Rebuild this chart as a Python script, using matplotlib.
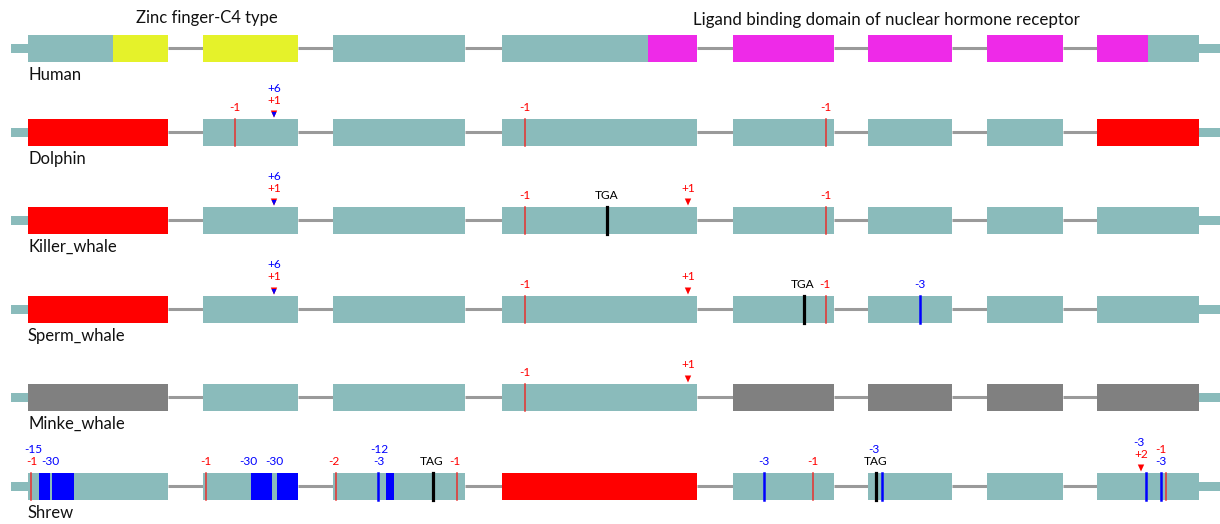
import numpy as np
import matplotlib.pyplot as plt
from matplotlib.patches import Rectangle, Polygon

plt.rcParams['font.family'] = ['Lato', 'DejaVu Sans']

TEAL = '#8abbbb'
YELLOW = '#e5f22a'
MAGENTA = '#ee2ae8'
RED = '#ff0000'
GREY = '#808080'
BLUE = '#0000ff'

# gene model (horizontal units)
exons = [(28, 168), (203, 298), (333, 465), (502, 697),
         (733, 834), (868, 952), (987, 1063), (1097, 1199)]
utr_left = (11, 28)
utr_right = (1199, 1220)

species = ['Human', 'Dolphin', 'Killer_whale', 'Sperm_whale', 'Minke_whale', 'Shrew']
row_y = [48, 132, 220, 309, 397, 486]

# exon colour per species: t=normal, r=lost, g=no data
exon_state = {
    'Dolphin':      'rttttttr',
    'Killer_whale': 'rttttttt',
    'Sperm_whale':  'rttttttt',
    'Minke_whale':  'gtttgggg',
    'Shrew':        'tttrtttt',
}
state_color = {'t': TEAL, 'r': RED, 'g': GREY}

# protein domains on the human model
zinc_domain = [(113, 168), (203, 298)]
lbd_domain = [(648, 697), (733, 834), (868, 952), (987, 1063), (1097, 1148)]

# mutations
frameshift = {
    'Dolphin': [235, 525, 826],
    'Killer_whale': [525, 826],
    'Sperm_whale': [525, 826],
    'Minke_whale': [525],
    'Shrew': [31, 206, 336, 457, 813, 1166],
}
small_del = {
    'Sperm_whale': [920],
    'Shrew': [378, 764, 882, 1146, 1161],
}
large_del = {
    'Shrew': [(39, 50), (52, 74), (251, 272), (277, 298), (386, 394)],
}
stop_codon = {
    'Killer_whale': [607],
    'Sperm_whale': [804],
    'Shrew': [433, 876],
}
insertion = {
    'Dolphin': [(274, 'both')],
    'Killer_whale': [(274, 'both'), (688, 'red')],
    'Sperm_whale': [(274, 'both'), (688, 'red')],
    'Minke_whale': [(688, 'red')],
    'Shrew': [(1141, 'red')],
}
# (x, text, colour, stack level)
labels = {
    'Dolphin': [(235, '-1', RED, 0), (274, '+1', RED, 0), (274, '+6', BLUE, 1),
                (525, '-1', RED, 0), (826, '-1', RED, 0)],
    'Killer_whale': [(274, '+1', RED, 0), (274, '+6', BLUE, 1), (525, '-1', RED, 0),
                     (607, 'TGA', 'k', 0), (688, '+1', RED, 0), (826, '-1', RED, 0)],
    'Sperm_whale': [(274, '+1', RED, 0), (274, '+6', BLUE, 1), (525, '-1', RED, 0),
                    (688, '+1', RED, 0), (803, 'TGA', 'k', 0), (825, '-1', RED, 0),
                    (920, '-3', BLUE, 0)],
    'Minke_whale': [(525, '-1', RED, 0), (688, '+1', RED, 0)],
    'Shrew': [(32, '-1', RED, 0), (33, '-15', BLUE, 1), (50, '-30', BLUE, 0),
              (206, '-1', RED, 0), (248, '-30', BLUE, 0), (274, '-30', BLUE, 0),
              (334, '-2', RED, 0), (379, '-3', BLUE, 0), (379, '-12', BLUE, 1),
              (432, 'TAG', 'k', 0), (455, '-1', RED, 0),
              (764, '-3', BLUE, 0), (813, '-1', RED, 0),
              (876, 'TAG', 'k', 0), (874, '-3', BLUE, 1),
              (1141, '+2', RED, 0), (1139, '-3', BLUE, 1),
              (1161, '-3', BLUE, 0), (1161, '-1', RED, 1)],
}

fig = plt.figure(figsize=(12.2, 5.24), dpi=100)
ax = fig.add_axes([0, 0, 1, 1])
ax.set_xlim(0, 1220)
ax.set_ylim(524, 0)
ax.axis('off')

H = 13.5   # exon half height
h = 4.5    # utr half height

for name, y in zip(species, row_y):
    top = y - H
    # introns
    for (a0, a1), (b0, b1) in zip(exons[:-1], exons[1:]):
        ax.plot([a1, b0], [y, y], color='#9a9a9a', lw=2.2, solid_capstyle='butt', zorder=1)
    # utrs
    for u0, u1 in (utr_left, utr_right):
        ax.add_patch(Rectangle((u0, y - h), u1 - u0, 2 * h, color=TEAL, lw=0, zorder=2))
    # exons
    states = exon_state.get(name, 't' * len(exons))
    for (e0, e1), s in zip(exons, states):
        ax.add_patch(Rectangle((e0, top), e1 - e0, 2 * H, color=state_color[s], lw=0, zorder=2))
    if name == 'Human':
        for d0, d1 in zinc_domain:
            ax.add_patch(Rectangle((d0, top), d1 - d0, 2 * H, color=YELLOW, lw=0, zorder=3))
        for d0, d1 in lbd_domain:
            ax.add_patch(Rectangle((d0, top), d1 - d0, 2 * H, color=MAGENTA, lw=0, zorder=3))

    for x0, x1 in large_del.get(name, []):
        ax.add_patch(Rectangle((x0, top), x1 - x0, 2 * H, color=BLUE, lw=0, zorder=4))
    for x in frameshift.get(name, []):
        ax.plot([x, x], [top, y + H], color='#e8302e', lw=1.1, zorder=5)
    for x in small_del.get(name, []):
        ax.plot([x, x], [top, y + H], color=BLUE, lw=1.8, zorder=5)
    for x in stop_codon.get(name, []):
        ax.plot([x, x], [top, y + H], color='black', lw=2.3, zorder=5)
    ins_x = []
    for x, kind in insertion.get(name, []):
        ins_x.append(x)
        ax.add_patch(Polygon([(x - 3.2, top - 8), (x + 3.2, top - 8), (x, top - 1)],
                             closed=True, color=RED, lw=0, zorder=5))
        if kind == 'both':
            ax.add_patch(Polygon([(x - 2.4, top - 6.5), (x + 2.4, top - 6.5), (x, top - 1)],
                                 closed=True, color=BLUE, lw=0, zorder=6))

    for x, txt, c, lev in labels.get(name, []):
        raised = any(abs(x - xi) <= 3 for xi in ins_x)
        base = 18.5 if raised else 11
        ax.text(x, top - base - lev * 12, txt, color=c, fontsize=8.6,
                ha='center', va='center', zorder=6)

    ax.text(28, y + 27, name, fontsize=12, color='#111111', ha='left', va='center')

ax.text(207, 18, 'Zinc finger-C4 type', fontsize=12, color='#111111', ha='center', va='center')
ax.text(886, 20, 'Ligand binding domain of nuclear hormone receptor', fontsize=12.2,
        color='#111111', ha='center', va='center')

fig.savefig('out.png', dpi=100)
